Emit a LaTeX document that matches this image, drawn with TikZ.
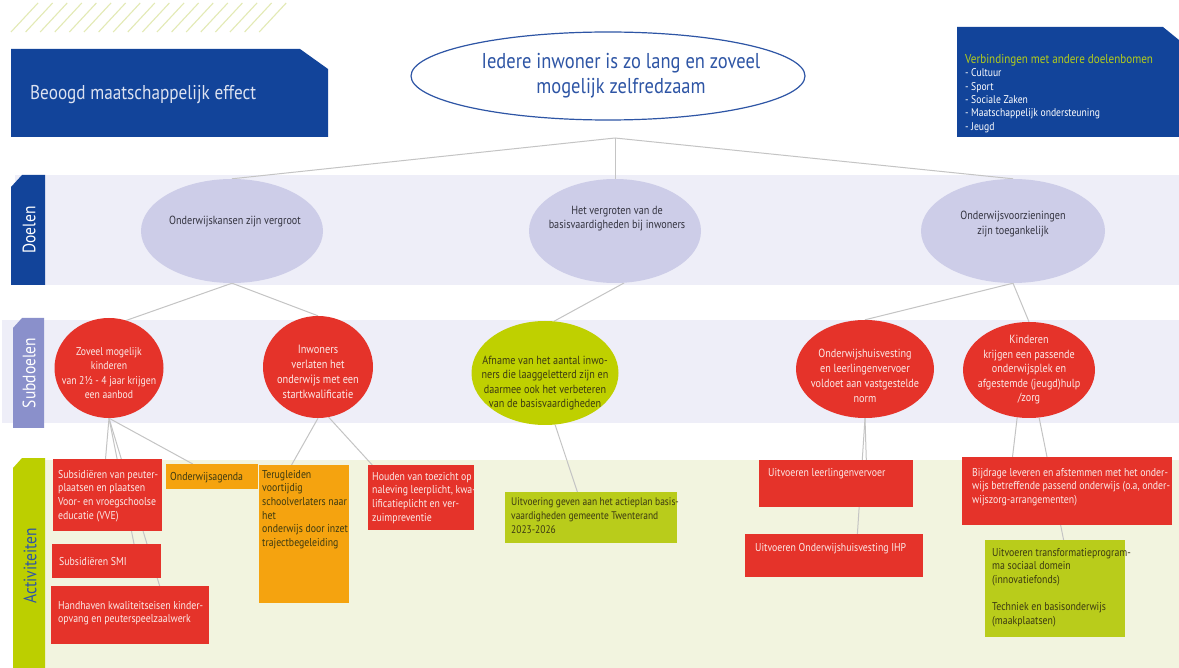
\documentclass[tikz,border=0pt]{standalone}
\usepackage{fontspec}
\setmainfont{PT Sans}[FakeStretch=0.86]
\usetikzlibrary{shapes.geometric,calc}
\pgfdeclarelayer{bands}
\pgfdeclarelayer{lines}
\pgfsetlayers{bands,lines,main}
\definecolor{blueC}{HTML}{12449A}
\definecolor{topC}{HTML}{2E55A5}
\definecolor{bandL}{HTML}{EEEEF8}
\definecolor{doelC}{HTML}{CDCDE8}
\definecolor{subTab}{HTML}{8A90CB}
\definecolor{actBand}{HTML}{F2F4DF}
\definecolor{greenTab}{HTML}{BCCF00}
\definecolor{redC}{HTML}{E5332A}
\definecolor{orangeC}{HTML}{F5A30F}
\definecolor{greenS}{HTML}{BFD000}
\definecolor{greenA}{HTML}{B9CC1B}
\definecolor{lineG}{HTML}{C4C4C4}
\definecolor{titleG}{HTML}{B3CC1B}
\definecolor{hatchC}{HTML}{E3EAB5}
\definecolor{onRed}{HTML}{FBE9E7}
\definecolor{darkT}{HTML}{3C3A12}
\definecolor{doelT}{HTML}{33333F}
\definecolor{lightT}{HTML}{DCE2F0}
\begin{document}
\begin{tikzpicture}[x=1pt,y=-1pt,
  conn/.style={draw=lineG, line width=1pt},
  doel/.style={ellipse, fill=doelC, draw=none, inner sep=0pt},
  sub/.style={ellipse, draw=none, inner sep=0pt},
  actbox/.style={rectangle, draw=none, inner sep=0pt, anchor=north west},
  tl/.style={anchor=north west, inner sep=0pt, align=left, font=\fontsize{11.4}{13.6}\selectfont},
  ctext/.style={inner sep=0pt, align=center},
  tabtext/.style={rotate=90, inner sep=0pt, font=\fontsize{18}{18}\selectfont},
  hatch/.style={draw=hatchC, line width=1.1pt}
]
\useasboundingbox (0,0) rectangle (1179,668);

% background and bands
\begin{pgfonlayer}{bands}
\fill[white] (0,0) rectangle (1179,668);
\fill[bandL] (15,175) rectangle (1179,285);
\fill[bandL] (2,320) rectangle (1179,423);
\fill[actBand] (45,460) rectangle (1179,668);
\end{pgfonlayer}

% hatching
\foreach \i in {0,...,17} {
  \draw[hatch] (11+\i*14.6,32) -- (38+\i*14.6,3);
}

% tabs
\fill[blueC] (11,187) -- (22,175) -- (45,175) -- (45,285) -- (11,285) -- cycle;
\node[tabtext, text=white] (tabD) at (29,230) {Doelen};
\fill[subTab] (13,328) -- (22,318) -- (44,318) -- (44,428) -- (13,428) -- cycle;
\node[tabtext, text=white] (tabS) at (29,373) {Subdoelen};
\fill[greenTab] (13,468) -- (22,458) -- (45,458) -- (45,668) -- (13,668) -- cycle;
\node[tabtext, text=topC] (tabA) at (30,566) {Activiteiten};

% top blue boxes
\fill[blueC] (11,49) -- (300,49) -- (328,69) -- (328,137) -- (11,137) -- cycle;
\node[anchor=west, inner sep=0pt, text=lightT, font=\fontsize{20}{20}\selectfont] (beoogd) at (30,95) {Beoogd maatschappelijk effect};

\fill[blueC] (957,27) -- (1163,27) -- (1179,40) -- (1179,137) -- (957,137) -- cycle;
\node[anchor=north west, inner sep=0pt, align=left, text=white, font=\fontsize{11.2}{13.4}\selectfont] (verb) at (965,54)
 {{\color{titleG}\fontsize{12.9}{12}\selectfont Verbindingen met andere doelenbomen}\\- Cultuur\\- Sport\\- Sociale Zaken\\- Maatschappelijk ondersteuning\\- Jeugd};

% top ellipse
\node[ellipse, draw=topC, line width=1.2pt, fill=white, minimum width=394pt, minimum height=88pt, inner sep=0pt,
  label={[ctext, text=topC, font=\fontsize{21.5}{25}\selectfont, xshift=13pt]center:{Iedere inwoner is zo lang en zoveel\\mogelijk zelfredzaam}}] (top) at (608,76) {};
\coordinate (hub) at (615,138);

% doelen
\node[doel, minimum width=182pt, minimum height=104pt,
  label={[ctext, text=doelT, font=\fontsize{11.8}{14}\selectfont, yshift=9pt, xshift=3pt]center:{Onderwijskansen zijn vergroot}}] (d1) at (232,231) {};
\node[doel, minimum width=172pt, minimum height=104pt,
  label={[ctext, text=doelT, font=\fontsize{11.8}{14}\selectfont, yshift=12pt, xshift=2pt]center:{Het vergroten van de\\basisvaardigheden bij inwoners}}] (d2) at (615,231) {};
\node[doel, minimum width=184pt, minimum height=104pt,
  label={[ctext, text=doelT, font=\fontsize{11.8}{14.5}\selectfont, yshift=7pt]center:{Onderwijsvoorzieningen\\zijn toegankelijk}}] (d3) at (1013,231) {};

% subdoelen
\node[sub, fill=redC, minimum width=109pt, minimum height=100pt,
  label={[ctext, text=onRed, font=\fontsize{11.3}{14.3}\selectfont, yshift=-5pt]center:{Zoveel mogelijk\\kinderen\\van 2½ - 4 jaar krijgen\\een aanbod}}] (s1) at (109,368) {};
\node[sub, fill=redC, minimum width=110pt, minimum height=102pt,
  label={[ctext, text=onRed, font=\fontsize{12}{15}\selectfont, yshift=-5pt]center:{Inwoners\\verlaten het\\onderwijs met een\\startkwalificatie}}] (s2) at (318,367) {};
\node[sub, fill=greenS, minimum width=147pt, minimum height=104pt,
  label={[ctext, text=darkT, font=\fontsize{11.8}{14.4}\selectfont, yshift=-10pt]center:{Afname van het aantal inwo-\\ners die laaggeletterd zijn en\\daarmee ook het verbeteren\\van de basisvaardigheden}}] (s3) at (545,373) {};
\node[sub, fill=redC, minimum width=138pt, minimum height=98pt,
  label={[ctext, text=onRed, font=\fontsize{11.8}{15}\selectfont, yshift=-7pt]center:{Onderwijshuisvesting\\en leerlingenvervoer\\voldoet aan vastgestelde\\norm}}] (s4) at (865,369) {};
\node[sub, fill=redC, minimum width=132pt, minimum height=96pt,
  label={[ctext, text=onRed, font=\fontsize{11.8}{14.5}\selectfont]center:{Kinderen\\krijgen een passende\\onderwijsplek en\\afgestemde (jeugd)hulp\\/zorg}}] (s5) at (1029,370) {};

% activities
\node[actbox, fill=redC, minimum width=109pt, minimum height=72pt,
  label={[tl, text=onRed, xshift=5pt, yshift=-11pt]north west:{Subsidiëren van peuter-\\plaatsen en plaatsen\\Voor- en vroegschoolse\\educatie (VVE)}}] (a1) at (53,459) {};
\node[actbox, fill=orangeC, minimum width=92pt, minimum height=25pt,
  label={[tl, text=darkT, xshift=4pt, yshift=-8pt]north west:{Onderwijsagenda}}] (a2) at (166,464) {};
\node[actbox, fill=redC, minimum width=109pt, minimum height=34pt,
  label={[tl, text=onRed, xshift=7pt, yshift=-13pt]north west:{Subsidiëren SMI}}] (a3) at (52,544) {};
\node[actbox, fill=redC, minimum width=158pt, minimum height=58pt,
  label={[tl, text=onRed, xshift=7pt, yshift=-15pt]north west:{Handhaven kwaliteitseisen kinder-\\opvang en peuterspeelzaalwerk}}] (a4) at (51,586) {};
\node[actbox, fill=orangeC, minimum width=90pt, minimum height=138pt,
  label={[tl, text=darkT, xshift=3pt, yshift=-5pt]north west:{Terugleiden\\voortijdig\\schoolverlaters naar\\het\\onderwijs door inzet\\trajectbegeleiding}}] (a5) at (259,465) {};
\node[actbox, fill=redC, minimum width=106pt, minimum height=65pt,
  label={[tl, text=onRed, xshift=4pt, yshift=-7pt]north west:{Houden van toezicht op\\naleving leerplicht, kwa-\\lificatieplicht en ver-\\zuimpreventie}}] (a6) at (368,465) {};
\node[actbox, fill=greenA, minimum width=172pt, minimum height=51pt,
  label={[tl, text=darkT, xshift=6pt, yshift=-6pt, font=\fontsize{11}{13.6}\selectfont]north west:{Uitvoering geven aan het actieplan basis-\\vaardigheden gemeente Twenterand\\2023-2026}}] (a7) at (505,492) {};
\node[actbox, fill=redC, minimum width=154pt, minimum height=47pt,
  label={[tl, text=onRed, xshift=9pt, yshift=-8pt]north west:{Uitvoeren leerlingenvervoer}}] (a8) at (759,460) {};
\node[actbox, fill=redC, minimum width=178pt, minimum height=43pt,
  label={[tl, text=onRed, xshift=10pt, yshift=-9pt]north west:{Uitvoeren Onderwijshuisvesting IHP}}] (a9) at (745,534) {};
\node[actbox, fill=redC, minimum width=210pt, minimum height=68pt,
  label={[tl, text=onRed, xshift=10pt, yshift=-11pt]north west:{Bijdrage leveren en afstemmen met het onder-\\wijs betreffende passend onderwijs (o.a, onder-\\wijszorg-arrangementen)}}] (a10) at (962,457) {};
\node[actbox, fill=greenA, minimum width=140pt, minimum height=97pt,
  label={[tl, text=darkT, xshift=7pt, yshift=-8pt]north west:{Uitvoeren transformatieprogram-\\ma sociaal domein\\(innovatiefonds)\\[13.6pt]Techniek en basisonderwijs\\(maakplaatsen)}}] (a11) at (985,540) {};

% connectors
\begin{pgfonlayer}{lines}
\draw[conn] (hub) -- (d1.north);
\draw[conn] (hub) -- (d2.north);
\draw[conn] (hub) -- (d3.north);
\draw[conn] (d1.south) -- (s1.70);
\draw[conn] (d1.south) -- (s2.north);
\draw[conn] (d2.-80) -- (s3.80);
\draw[conn] (d3.south) -- (s4.north);
\draw[conn] (d3.south) -- (s5.north);
\draw[conn] (s1.south) -- ($(a1.north west)!0.48!(a1.north east)$);
\draw[conn] (s1.south) -- ($(a3.north west)!0.75!(a3.north east)$);
\draw[conn] (s1.south) -- ($(a4.north west)!0.686!(a4.north east)$);
\draw[conn] (s1.south) -- ($(a2.north west)!0.29!(a2.north east)$);
\draw[conn] (s2.south) -- ($(a5.north west)!0.36!(a5.north east)$);
\draw[conn] (s2.-78) -- ($(a6.north west)!0.04!(a6.north east)$);
\draw[conn] (s3.-79) -- ($(a7.north west)!0.42!(a7.north east)$);
\draw[conn] (s4.south) -- ($(a8.north west)!0.695!(a8.north east)$);
\draw[conn] (s4.south) -- ($(a9.north west)!0.63!(a9.north east)$);
\draw[conn] (s5.-104) -- ($(a10.north west)!0.24!(a10.north east)$);
\draw[conn] (s5.-78) -- ($(a11.north west)!0.56!(a11.north east)$);
\end{pgfonlayer}
\end{tikzpicture}
\end{document}
